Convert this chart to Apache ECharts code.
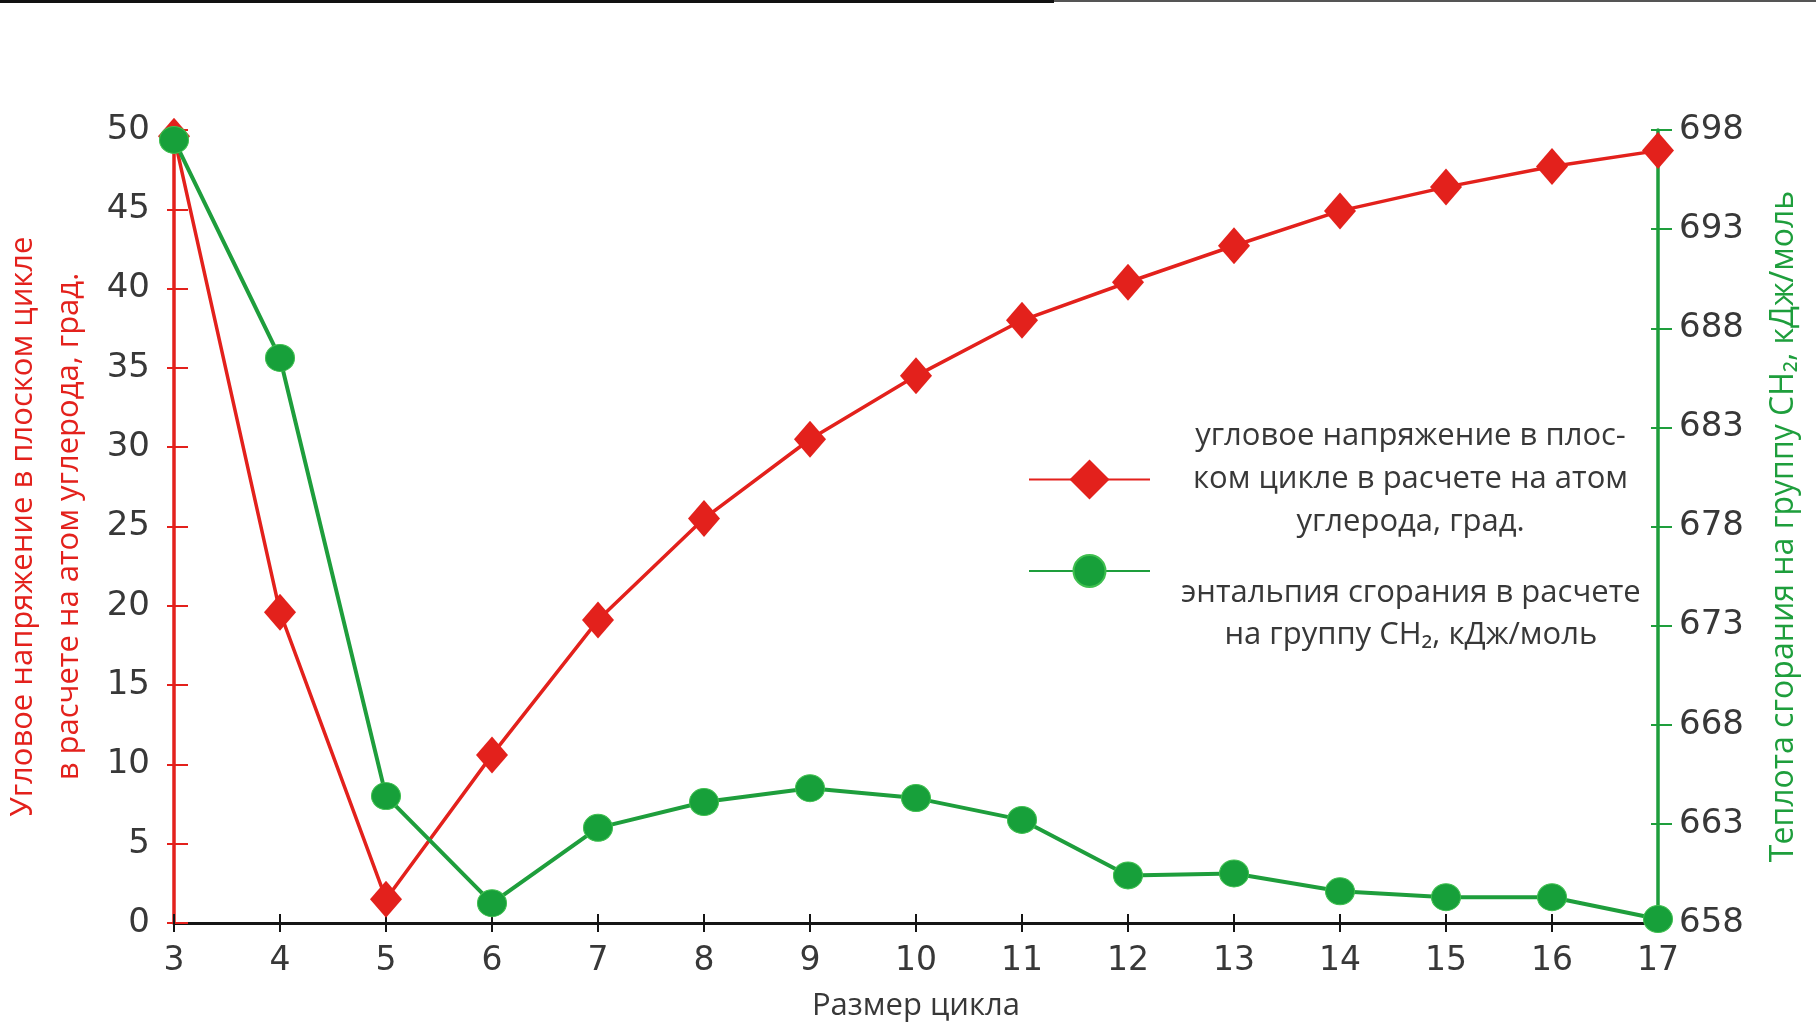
<!DOCTYPE html>
<html>
<head>
<meta charset="utf-8">
<script src="https://cdn.jsdelivr.net/npm/echarts@6/dist/echarts.min.js"></script>
<style>
  html, body { margin: 0; padding: 0; background: #fff; }
  #chart { width: 1816px; height: 1030px; }
</style>
</head>
<body>
<div id="chart"></div>
<script>
// размер цикла
const ringSizes = ['3', '4', '5', '6', '7', '8', '9', '10', '11', '12', '13', '14', '15', '16', '17']
// угловое напряжение, град.
const strainValues = [49.6, 19.6, 1.5, 10.6, 19.1, 25.5, 30.5, 34.5, 38.0, 40.4, 42.7, 44.9, 46.4, 47.7, 48.7]
// теплота сгорания на CH2, кДж/моль
const heatValues = [697.5, 686.5, 664.4, 659.0, 662.8, 664.1, 664.8, 664.3, 663.2, 660.4, 660.5, 659.6, 659.3, 659.3, 658.2]

const RED = '#e3211c'
const GREEN = '#1e9e3c'
const TXT = '#383838'

const chart = echarts.init(document.getElementById('chart'))

const options = {
  backgroundColor: '#fff',
  animation: false,
  grid: {
    left: 174,
    right: 158,
    top: 130,
    bottom: 107,
    outerBoundsMode: 'none'
  },
  graphic: [
    { type: 'rect', shape: { x: 0, y: 0, width: 1054, height: 3 }, style: { fill: '#111' } },
    { type: 'rect', shape: { x: 1054, y: 0, width: 762, height: 2 }, style: { fill: '#555' } }
  ],
  legend: [
    {
      data: ['strain'],
      left: 1028,
      top: 421,
      padding: 0,
      itemWidth: 121,
      itemHeight: 50,
      itemGap: 0,
      formatter: function () {
        return '{a|угловое напряжение в плос-}\n{a|ком цикле в расчете на атом}\n{a|углерода, град.}'
      },
      textStyle: {
        padding: [0, 0, 0, 38],
        rich: {
          a: { fontFamily: 'Open Sans', fontSize: 31, color: TXT, lineHeight: 43, align: 'center' }
        }
      }
    },
    {
      data: ['heat'],
      left: 1028,
      top: 524,
      padding: 0,
      itemWidth: 121,
      itemHeight: 40,
      itemGap: 0,
      formatter: function () {
        return '{g| }\n{a|энтальпия сгорания в расчете}\n{a|на группу CH₂, кДж/моль}'
      },
      textStyle: {
        padding: [0, 0, 0, 26],
        rich: {
          g: { fontSize: 10, lineHeight: 87 },
          a: { fontFamily: 'Open Sans', fontSize: 31, color: TXT, lineHeight: 42, align: 'center' }
        }
      }
    }
  ],
  xAxis: [
    {
      type: 'category',
      data: ringSizes,
      boundaryGap: false,
      name: 'Размер цикла',
      nameLocation: 'middle',
      nameGap: 68,
      nameTextStyle: { fontFamily: 'Open Sans', fontSize: 31, color: TXT },
      axisLine: { lineStyle: { color: '#151515', width: 3 } },
      axisTick: { show: true, inside: false, length: 9, lineStyle: { color: '#151515', width: 2 } },
      axisLabel: { fontFamily: 'DejaVu Sans', fontSize: 33, color: TXT, margin: 22 },
      splitLine: { show: false }
    },
    {
      // верхняя часть засечек
      type: 'category',
      data: ringSizes,
      boundaryGap: false,
      position: 'bottom',
      axisLine: { show: false },
      axisTick: { show: true, inside: true, length: 9, lineStyle: { color: '#151515', width: 2 } },
      axisLabel: { show: false },
      splitLine: { show: false }
    }
  ],
  yAxis: [
    {
      type: 'value',
      position: 'left',
      min: 0,
      max: 50,
      interval: 5,
      name: 'Угловое напряжение в плоском цикле\nв расчете на атом углерода, град.',
      nameLocation: 'middle',
      nameGap: 82,
      nameRotate: 90,
      nameTextStyle: { fontFamily: 'Open Sans', fontSize: 31, color: RED, lineHeight: 46 },
      axisLine: { show: true, lineStyle: { color: RED, width: 3.5 } },
      axisTick: { show: true, inside: false, length: 7, lineStyle: { color: RED, width: 2 } },
      axisLabel: { fontFamily: 'DejaVu Sans', fontSize: 34, color: TXT, margin: 24 },
      splitLine: { show: false }
    },
    {
      // внутренняя часть засечек слева
      type: 'value',
      position: 'left',
      min: 0,
      max: 50,
      interval: 5,
      axisLine: { show: false },
      axisTick: { show: true, inside: true, length: 14, lineStyle: { color: RED, width: 2 } },
      axisLabel: { show: false },
      splitLine: { show: false }
    },
    {
      type: 'value',
      position: 'right',
      min: 658,
      max: 698,
      interval: 5,
      name: 'Теплота сгорания на группу CH₂, кДж/моль',
      nameLocation: 'middle',
      nameGap: 110,
      nameRotate: 90,
      nameTextStyle: { fontFamily: 'Open Sans', fontSize: 32, color: GREEN },
      axisLine: { show: true, lineStyle: { color: GREEN, width: 3.5 } },
      axisTick: { show: true, inside: false, length: 14, lineStyle: { color: GREEN, width: 2 } },
      axisLabel: { fontFamily: 'DejaVu Sans', fontSize: 34, color: TXT, margin: 21 },
      splitLine: { show: false }
    },
    {
      // внутренняя часть засечек справа
      type: 'value',
      position: 'right',
      min: 658,
      max: 698,
      interval: 5,
      axisLine: { show: false },
      axisTick: { show: true, inside: true, length: 7, lineStyle: { color: GREEN, width: 2 } },
      axisLabel: { show: false },
      splitLine: { show: false }
    }
  ],
  series: [
    {
      name: 'strain',
      type: 'line',
      yAxisIndex: 0,
      data: strainValues,
      symbol: 'diamond',
      symbolSize: [32, 37],
      lineStyle: { color: RED, width: 3.5 },
      itemStyle: { color: RED }
    },
    {
      name: 'heat',
      type: 'line',
      yAxisIndex: 2,
      data: heatValues,
      symbol: 'circle',
      symbolSize: [29, 27],
      lineStyle: { color: GREEN, width: 4 },
      itemStyle: { color: '#17a03a', borderColor: '#3fbf4f', borderWidth: 1 }
    }
  ]
}

chart.setOption(options)
</script>
</body>
</html>
